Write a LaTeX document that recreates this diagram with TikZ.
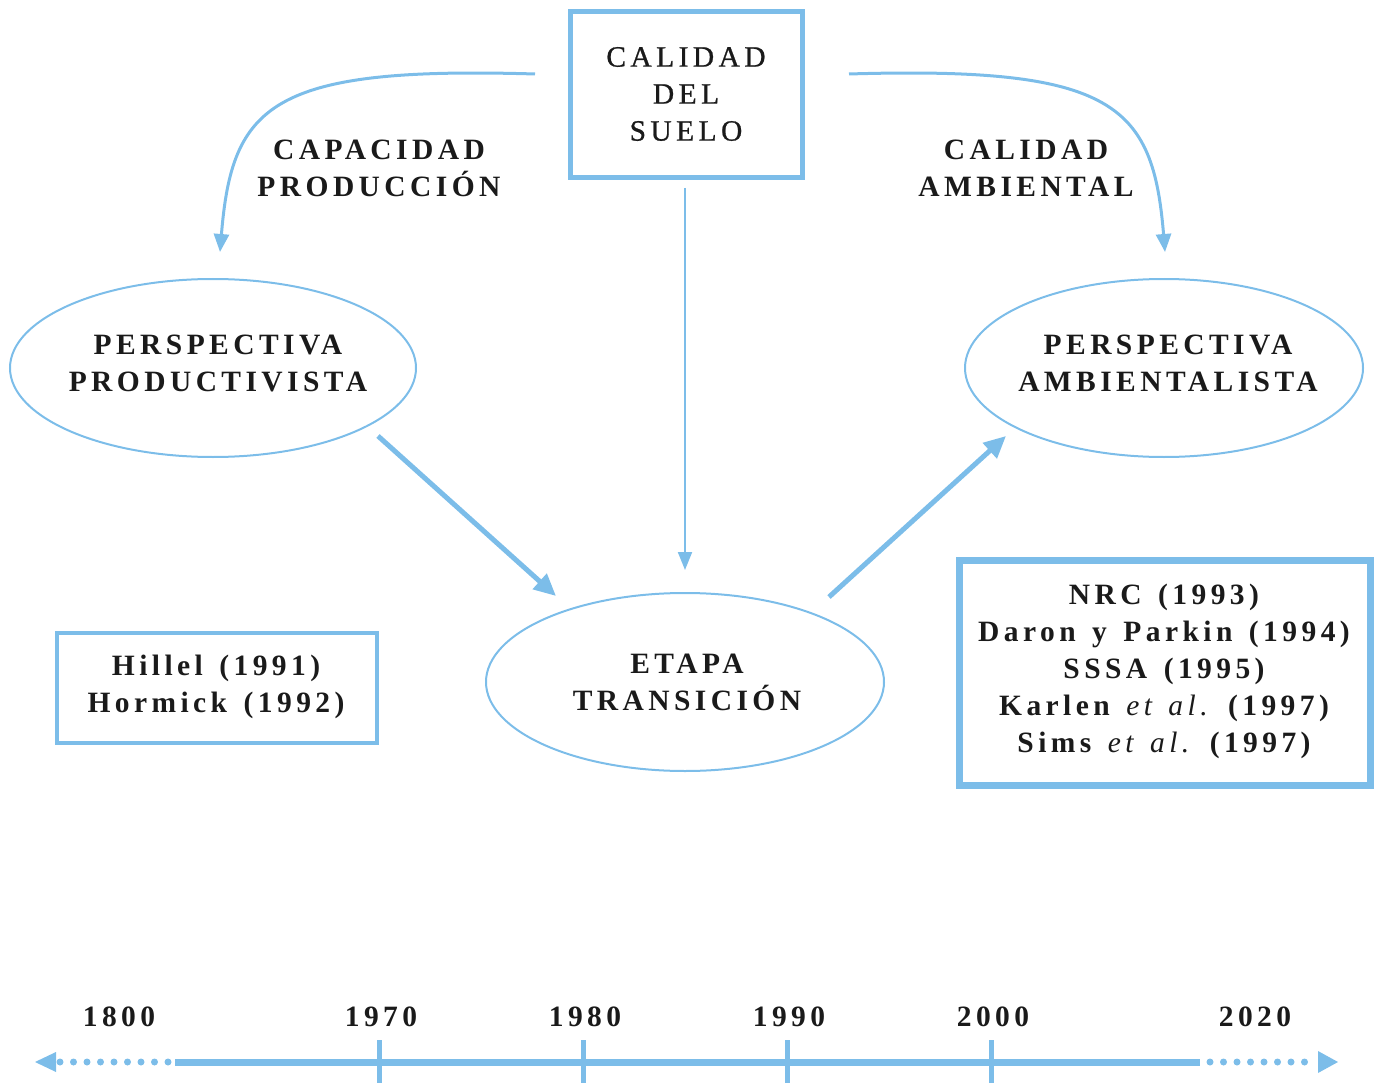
\documentclass[tikz,border=0pt]{standalone}
\usepackage{fontspec}
\setmainfont{Liberation Serif}
\newfontfamily\spaced[LetterSpace=15,WordSpace=1.4]{Liberation Serif}
\newfontfamily\semib[LetterSpace=15,WordSpace=1.4,FakeBold=0.8]{Liberation Serif}
\usetikzlibrary{arrows.meta}
\definecolor{sky}{RGB}{124,189,233}
\definecolor{ink}{RGB}{26,26,26}
\begin{document}
\begin{tikzpicture}[x=1pt,y=-1pt,
  txt/.style={font=\spaced\bfseries\fontsize{29.5}{37}\selectfont, text=ink, align=center, inner sep=0pt},
  txtreg/.style={font=\semib\fontsize{29.5}{37}\selectfont, text=ink, align=center, inner sep=0pt},
  oval/.style={draw=sky, line width=2pt},
  curvearrow/.style={draw=sky, line width=3pt, -{Triangle[length=18pt,width=15pt]}},
  thinarrow/.style={draw=sky, line width=2pt, -{Triangle[length=18pt,width=14pt]}},
  thickarrow/.style={draw=sky, line width=5pt, -{Triangle[length=22pt,width=20pt]}},
  tick/.style={draw=sky, line width=5pt},
]
\useasboundingbox (0,0) rectangle (1378,1083);

% top box
\draw[sky, line width=5pt] (570,12) rectangle (802,178);
\node[txtreg] (calidad) at (686,94) {CALIDAD\\DEL\\SUELO};

% curved arrows
\coordinate (lstart) at (535,74);
\coordinate (lend) at (220,252);
\coordinate (rstart) at (849,74);
\coordinate (rend) at (1165,252);
\draw[curvearrow] (lstart) .. controls (270,66) and (232,105) .. (lend);
\draw[curvearrow] (rstart) .. controls (1115,66) and (1153,105) .. (rend);
\node[txt] (capacidad) at (379,168) {CAPACIDAD\\PRODUCCIÓN};
\node[txt] (calamb) at (1026,168) {CALIDAD\\AMBIENTAL};

% vertical arrow
\coordinate (vstart) at (685,188);
\coordinate (vend) at (685,570);
\draw[thinarrow] (vstart) -- (vend);

% ellipses
\draw[oval] (213,368) ellipse [x radius=203, y radius=89];
\node[txt] (prod) at (218,363) {PERSPECTIVA\\PRODUCTIVISTA};
\draw[oval] (1164,368) ellipse [x radius=199, y radius=89];
\node[txt] (amb) at (1168,363) {PERSPECTIVA\\AMBIENTALISTA};
\draw[oval] (685,682) ellipse [x radius=199, y radius=89];
\node[txt] (etapa) at (687,682) {ETAPA\\TRANSICIÓN};

% thick arrows
\coordinate (a1s) at (378,436);
\coordinate (a1e) at (556,596);
\coordinate (a2s) at (829,597);
\coordinate (a2e) at (1006,436);
\draw[thickarrow] (a1s) -- (a1e);
\draw[thickarrow] (a2s) -- (a2e);

% reference boxes
\draw[sky, line width=4pt] (57,633) rectangle (377,743);
\node[txt] (hillel) at (216,687) {Hillel (1991)\\Hormick (1992)};
\draw[sky, line width=7pt] (959,560) rectangle (1370,785);
\node[txt] (nrc) at (1164,671) {NRC (1993)\\Daron y Parkin (1994)\\SSSA (1995)\\Karlen {\mdseries\itshape et al.} (1997)\\Sims {\mdseries\itshape et al.} (1997)};

% timeline
\coordinate (tl) at (35,1062);
\coordinate (tr) at (1338,1062);
\coordinate (sl) at (175,1062);
\coordinate (sr) at (1200,1062);
\draw[sky, line width=7pt] (sl) -- (sr);
\draw[sky, line width=7pt, line cap=round, dash pattern=on 0pt off 13.5pt] (168,1062) -- (55,1062);
\draw[sky, line width=7pt, line cap=round, dash pattern=on 0pt off 13.5pt] (1210,1062) -- (1318,1062);
\fill[sky] (tl) -- (56,1052) -- (56,1072) -- cycle;
\fill[sky] (tr) -- (1318,1051) -- (1318,1073) -- cycle;
\foreach \xx in {379,583,787,991} \draw[tick] (\xx,1040) -- (\xx,1083);

\node[txt] (y1800) at (119,1017) {1800};
\node[txt] (y1970) at (381,1017) {1970};
\node[txt] (y1980) at (585,1017) {1980};
\node[txt] (y1990) at (789,1017) {1990};
\node[txt] (y2000) at (993,1017) {2000};
\node[txt] (y2020) at (1255,1017) {2020};
\end{tikzpicture}
\end{document}
